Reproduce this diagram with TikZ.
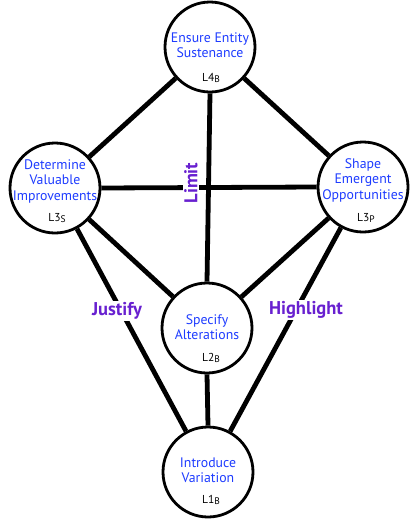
\documentclass[tikz,border=0pt]{standalone}
\usepackage{fontspec}
\setmainfont{PT Sans}
\definecolor{nodeblue}{RGB}{30,60,255}
\definecolor{labpurple}{RGB}{104,32,208}
\newcommand{\lv}[2]{L#1\raisebox{-1.5pt}{\fontsize{9.5}{10}\selectfont #2}}
\tikzset{
  circ/.style={circle,draw=black,line width=2.8pt,minimum size=90pt,inner sep=0pt,fill=white},
  txt/.style={text=nodeblue,align=center,font=\fontsize{13.8}{15.5}\selectfont,inner sep=0pt},
  lvl/.style={text=black,font=\fontsize{11.5}{12}\selectfont,inner sep=0pt},
  edge/.style={line width=4.8pt,black},
  lab/.style={text=labpurple,font=\bfseries\fontsize{18.5}{20}\selectfont,fill=white,inner sep=1.5pt}
}
\begin{document}
\begin{tikzpicture}[x=1pt,y=-1pt]
\useasboundingbox (0,0) rectangle (418,520);
\node[circ] (top) at (210,47) {};
\node[circ] (left) at (55,188) {};
\node[circ] (right) at (363,187) {};
\node[circ] (mid) at (207,328) {};
\node[circ] (bot) at (208,472) {};
\draw[edge] (top) -- (left);
\draw[edge] (top) -- (right);
\draw[edge] (top.south) -- (mid.north);
\draw[edge] (left.east) -- (right.west);
\draw[edge] (left) -- (mid);
\draw[edge] (right) -- (mid);
\draw[edge] (left) -- (bot);
\draw[edge] (right) -- (bot);
\draw[edge] (mid.south) -- (bot.north);
\node[txt] (topt) at (210,45) {Ensure Entity\\Sustenance};
\node[txt] (leftt) at (55,181) {Determine\\Valuable\\Improvements};
\node[txt] (rightt) at (363,180) {Shape\\Emergent\\Opportunities};
\node[txt] (midt) at (207,327) {Specify\\Alterations};
\node[txt] (bott) at (208,470) {Introduce\\Variation};
\node[lvl] (topl) at (211,78) {\lv{4}{B}};
\node[lvl] (leftl) at (57,218) {\lv{3}{S}};
\node[lvl] (rightl) at (366,218) {\lv{3}{P}};
\node[lvl] (midl) at (211,358) {\lv{2}{B}};
\node[lvl] (botl) at (211,500) {\lv{1}{B}};
\node[lab,rotate=90] (limit) at (191,183) {Limit};
\node[lab] (justify) at (117,311) {Justify};
\node[lab] (highlight) at (306,310) {Highlight};
\end{tikzpicture}
\end{document}
